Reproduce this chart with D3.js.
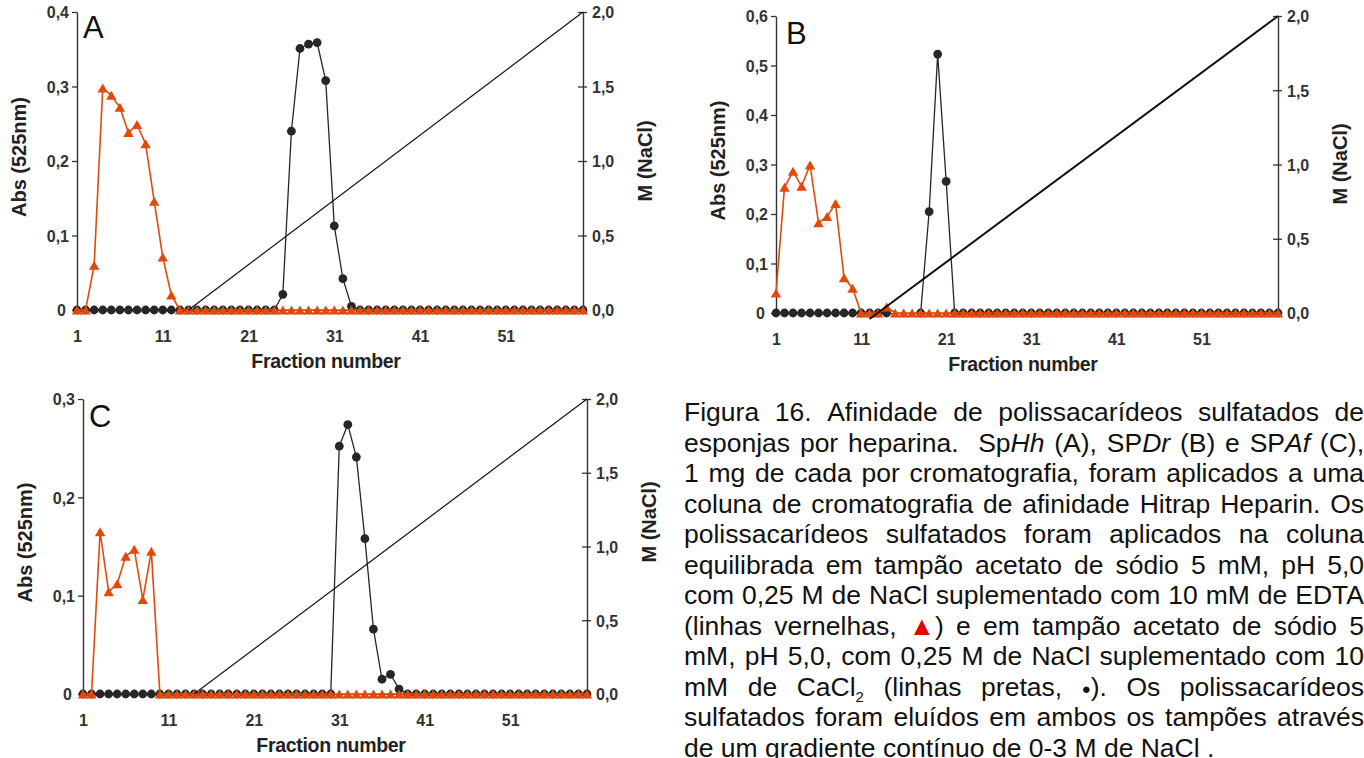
<!DOCTYPE html>
<html>
<head>
<meta charset="utf-8">
<script src="https://cdn.jsdelivr.net/npm/d3@7"></script>
<style>
  html, body { margin: 0; padding: 0; background: #fff; }
  body { width: 1364px; height: 758px; overflow: hidden; }
  svg { display: block; }
</style>
</head>
<body>
<svg id="chart" width="1364" height="758"></svg>
<script>
// Fraction numbers collected from the column (x categories)
const fractions = d3.range(1, 61);
const fractionTicks = [1, 11, 21, 31, 41, 51];
const molarTicks = [0, 0.5, 1.0, 1.5, 2.0];

// Panel A — SpHh
const absTicksA = [0, 0.1, 0.2, 0.3, 0.4];
const edtaA = [0, 0, 0.06, 0.298, 0.288, 0.272, 0.238, 0.249, 0.223, 0.146,
  0.071, 0.02, 0, 0, 0, 0, 0, 0, 0, 0,
  0, 0, 0, 0, 0, 0, 0, 0, 0, 0,
  0, 0, 0, 0, 0, 0, 0, 0, 0, 0,
  0, 0, 0, 0, 0, 0, 0, 0, 0, 0,
  0, 0, 0, 0, 0, 0, 0, 0, 0, 0];
const cacl2A = [0, 0, 0, 0, 0, 0, 0, 0, 0, 0,
  0, 0, 0, 0, 0, 0, 0, 0, 0, 0,
  0, 0, 0, 0, 0.021, 0.24, 0.351, 0.357, 0.359, 0.308,
  0.113, 0.042, 0.005, 0, 0, 0, 0, 0, 0, 0,
  0, 0, 0, 0, 0, 0, 0, 0, 0, 0,
  0, 0, 0, 0, 0, 0, 0, 0, 0, 0];
const gradientFractionsA = [14, 60];
const gradientMolarA = [0, 2.0];

// Panel B — SPDr
const absTicksB = [0, 0.1, 0.2, 0.3, 0.4, 0.5, 0.6];
const edtaB = [0.04, 0.254, 0.286, 0.256, 0.299, 0.182, 0.195, 0.221, 0.071, 0.05,
  0, 0, 0, 0.012, 0, 0, 0, 0, 0, 0,
  0, 0, 0, 0, 0, 0, 0, 0, 0, 0,
  0, 0, 0, 0, 0, 0, 0, 0, 0, 0,
  0, 0, 0, 0, 0, 0, 0, 0, 0, 0,
  0, 0, 0, 0, 0, 0, 0, 0, 0, 0];
const cacl2B = [0, 0, 0, 0, 0, 0, 0, 0, 0, 0,
  0, 0, 0, 0, null, null, null, 0, 0.205, 0.523,
  0.266, 0, 0, 0, 0, 0, 0, 0, 0, 0,
  0, 0, 0, 0, 0, 0, 0, 0, 0, 0,
  0, 0, 0, 0, 0, 0, 0, 0, 0, 0,
  0, 0, 0, 0, 0, 0, 0, 0, 0, 0];
const gradientFractionsB = [12, 60];
const gradientMolarB = [-0.04, 2.0];

// Panel C — SPAf
const absTicksC = [0, 0.1, 0.2, 0.3];
const edtaC = [0, 0, 0.165, 0.104, 0.112, 0.14, 0.147, 0.096, 0.145, 0,
  0, 0, 0, 0, 0, 0, 0, 0, 0, 0,
  0, 0, 0, 0, 0, 0, 0, 0, 0, 0,
  0, 0, 0, 0, 0, 0, 0, 0, 0, 0,
  0, 0, 0, 0, 0, 0, 0, 0, 0, 0,
  0, 0, 0, 0, 0, 0, 0, 0, 0, 0];
const cacl2C = [0, 0, 0, 0, 0, 0, 0, 0, 0, 0,
  0, 0, 0, 0, 0, 0, 0, 0, 0, 0,
  0, 0, 0, 0, 0, 0, 0, 0, 0, 0,
  0.252, 0.274, 0.241, 0.158, 0.066, 0.015, 0.02, 0.005, 0, 0,
  0, 0, 0, 0, 0, 0, 0, 0, 0, 0,
  0, 0, 0, 0, 0, 0, 0, 0, 0, 0];
const gradientFractionsC = [14, 60];
const gradientMolarC = [0, 2.0];

// Figure legend, one entry per printed line (<i> italic, <sub> subscript, <r> red, <b> bullet)
const captionLines = [
  "Figura 16. Afinidade de polissacarídeos sulfatados de",
  "esponjas por heparina.  Sp<i>Hh</i> (A), SP<i>Dr</i> (B) e SP<i>Af</i> (C),",
  "1 mg de cada por cromatografia, foram aplicados a uma",
  "coluna de cromatografia de afinidade Hitrap Heparin. Os",
  "polissacarídeos sulfatados foram aplicados na coluna",
  "equilibrada em tampão acetato de sódio 5 mM, pH 5,0",
  "com 0,25 M de NaCl suplementado com 10 mM de EDTA",
  "(linhas vernelhas, <r>▲</r>) e em tampão acetato de sódio 5",
  "mM, pH 5,0, com 0,25 M de NaCl suplementado com 10",
  "mM de CaCl<sub>2</sub> (linhas pretas, <b>●</b>). Os polissacarídeos",
  "sulfatados foram eluídos em ambos os tampões através",
  "de um gradiente contínuo de 0-3 M de NaCl ."
];

// ---------------------------------------------------------------------------
const FONT = '"Liberation Sans", Arial, Helvetica, sans-serif';
const RED = "#E2490B";
const DARK = "#262626";
const AXIS = "#333333";

const panels = [
  { letter: "A", edta: edtaA, cacl2: cacl2A, absTicks: absTicksA,
    gf: gradientFractionsA, gm: gradientMolarA, gradWidth: 1.2,
    left: 77, right: 583, top: 12, bottom: 310, letterX: 83, letterY: 38, mTitleY: 161 },
  { letter: "B", edta: edtaB, cacl2: cacl2B, absTicks: absTicksB,
    gf: gradientFractionsB, gm: gradientMolarB, gradWidth: 2,
    left: 776, right: 1278, top: 16, bottom: 313, letterX: 786, letterY: 44, mTitleY: 164 },
  { letter: "C", edta: edtaC, cacl2: cacl2C, absTicks: absTicksC,
    gf: gradientFractionsC, gm: gradientMolarC, gradWidth: 1.2,
    left: 83, right: 587, top: 399, bottom: 694, letterX: 89, letterY: 427, mTitleY: 522 }
];

const svg = d3.select("#chart");
const commaFmt = v => d3.format(".1f")(v).replace(".", ",");
const absFmt = v => (v === 0 ? "0" : commaFmt(v));
const triangle = "M0,-4.6L5.2,4.4L-5.2,4.4Z";

function drawPanel(p) {
  const g = svg.append("g");
  const absMax = p.absTicks[p.absTicks.length - 1];
  const x = d3.scaleLinear().domain([1, 60]).range([p.left, p.right]);
  const yAbs = d3.scaleLinear().domain([0, absMax]).range([p.bottom, p.top]);
  const yM = d3.scaleLinear().domain([0, 2]).range([p.bottom, p.top]);

  // x axis (baseline + fraction labels)
  const xAxis = g.append("g").attr("transform", `translate(0,${p.bottom})`)
    .call(d3.axisBottom(x).tickValues(fractionTicks).tickSize(0).tickSizeOuter(0));
  xAxis.select(".domain").attr("stroke", AXIS).attr("stroke-width", 1.2);
  xAxis.selectAll("text").attr("y", 32).attr("dy", null)
    .attr("font-family", FONT).attr("font-size", 16).attr("font-weight", "bold").attr("fill", AXIS);

  // left axis: absorbance
  const left = g.append("g").attr("transform", `translate(${p.left},0)`)
    .call(d3.axisLeft(yAbs).tickValues(p.absTicks).tickFormat(absFmt).tickSize(5).tickSizeOuter(0).tickPadding(4));
  left.select(".domain").attr("stroke", AXIS).attr("stroke-width", 1.4);
  left.selectAll(".tick line").attr("stroke", AXIS).attr("stroke-width", 1.3);
  left.selectAll("text")
    .attr("x", d => (d === 0 ? -11 : -8)).attr("dy", "0.36em")
    .attr("font-family", FONT).attr("font-size", 16).attr("font-weight", "bold").attr("fill", AXIS);

  // right axis: NaCl molarity
  const right = g.append("g").attr("transform", `translate(${p.right},0)`)
    .call(d3.axisRight(yM).tickValues(molarTicks).tickFormat(commaFmt).tickSize(4).tickSizeOuter(0));
  right.select(".domain").attr("stroke", AXIS).attr("stroke-width", 1.4);
  right.selectAll(".tick line").attr("x1", -5).attr("x2", 4).attr("stroke", AXIS).attr("stroke-width", 1.3);
  right.selectAll("text")
    .attr("x", 9).attr("dy", "0.36em")
    .attr("font-family", FONT).attr("font-size", 16).attr("font-weight", "bold").attr("fill", AXIS);

  g.selectAll("path.domain").attr("fill", "none");

  const black = fractions.map((f, i) => ({ f, v: p.cacl2[i] }));
  const red = fractions.map((f, i) => ({ f, v: p.edta[i] }));
  const line = d3.line().defined(d => d.v != null).x(d => x(d.f)).y(d => yAbs(d.v));

  // CaCl2 series (black circles)
  g.append("path").datum(black).attr("d", line)
    .attr("fill", "none").attr("stroke", DARK).attr("stroke-width", 1.3);
  g.append("g").selectAll("circle").data(black.filter(d => d.v != null)).join("circle")
    .attr("cx", d => x(d.f)).attr("cy", d => yAbs(d.v)).attr("r", 4.4).attr("fill", DARK);

  // EDTA series (red triangles)
  g.append("path").datum(red).attr("d", line)
    .attr("fill", "none").attr("stroke", RED).attr("stroke-width", 1.6);
  g.append("g").selectAll("path").data(red).join("path")
    .attr("d", triangle)
    .attr("transform", d => `translate(${x(d.f)},${yAbs(d.v)})`)
    .attr("fill", RED);

  // NaCl gradient
  const grad = p.gf.map((f, i) => ({ f, m: p.gm[i] }));
  g.append("path").datum(grad)
    .attr("d", d3.line().x(d => x(d.f)).y(d => yM(d.m)))
    .attr("fill", "none").attr("stroke", "#111").attr("stroke-width", p.gradWidth);

  // titles
  const midY = (p.top + p.bottom) / 2;
  g.append("text").text("Abs (525nm)")
    .attr("transform", `translate(${p.left - 51},${midY - 4}) rotate(-90)`)
    .attr("text-anchor", "middle").attr("font-family", FONT).attr("font-size", 20)
    .attr("font-weight", "bold").attr("fill", "#222");
  g.append("text").text("M (NaCl)")
    .attr("transform", `translate(${p.right + 69},${p.mTitleY}) rotate(-90)`)
    .attr("text-anchor", "middle").attr("font-family", FONT).attr("font-size", 20)
    .attr("font-weight", "bold").attr("fill", "#222");
  g.append("text").text("Fraction number")
    .attr("x", (p.left + p.right) / 2 - 4).attr("y", p.bottom + 58)
    .attr("text-anchor", "middle").attr("font-family", FONT).attr("font-size", 19.5)
    .attr("font-weight", "bold").attr("letter-spacing", -0.3).attr("fill", "#222");
  g.append("text").text(p.letter)
    .attr("x", p.letterX).attr("y", p.letterY)
    .attr("font-family", FONT).attr("font-size", 31).attr("fill", "#111");
}

panels.forEach(drawPanel);

// ---------------------------------------------------------------------------
// Justified legend text, laid out word by word
const CAP = { left: 684, width: 680, top: 421, lineH: 30.5, size: 26.5 };

function parseWord(word) {
  const segs = [];
  const re = /<(i|sub|r|b)>(.*?)<\/\1>|([^<]+)/g;
  let m;
  while ((m = re.exec(word)) !== null) {
    if (m[3] !== undefined) segs.push({ t: m[3], k: "n" });
    else segs.push({ t: m[2], k: m[1] });
  }
  return segs;
}

const capG = svg.append("g")
  .attr("font-family", FONT).attr("font-size", CAP.size).attr("fill", "#111");

const spaceProbe = capG.append("text").text("a a");
const probe2 = capG.append("text").text("aa");
const spaceW = spaceProbe.node().getComputedTextLength() - probe2.node().getComputedTextLength();
spaceProbe.remove(); probe2.remove();

captionLines.forEach((lineStr, li) => {
  const tokens = lineStr.split(" ");
  const words = [];
  const gaps = [];
  let extra = 0;
  tokens.forEach(tok => {
    if (tok === "") { extra += 1; return; }
    if (words.length) gaps.push(1 + extra);
    extra = 0;
    words.push(tok);
  });
  const y = CAP.top + li * CAP.lineH;
  const lineG = capG.append("g").attr("transform", `translate(${CAP.left},${y})`);
  const nodes = words.map(w => {
    const t = lineG.append("text").attr("y", 0);
    let shift = 0;
    parseWord(w).forEach(s => {
      const ts = t.append("tspan").text(s.t);
      let dy = 0;
      if (s.k === "i") ts.attr("font-style", "italic");
      if (s.k === "r") ts.attr("fill", "#E80000");
      if (s.k === "b") { ts.attr("font-size", 15); dy = -2; }
      if (s.k === "sub") { ts.attr("font-size", 15); dy = 6; }
      if (dy - shift !== 0) ts.attr("dy", dy - shift);
      shift = dy;
    });
    return t;
  });
  const widths = nodes.map(n => n.node().getComputedTextLength());
  const total = d3.sum(widths);
  const last = li === captionLines.length - 1;
  const unit = last ? spaceW : Math.max(spaceW * 0.5, (CAP.width - total) / d3.sum(gaps));
  let cx = 0;
  nodes.forEach((n, i) => {
    n.attr("x", cx);
    cx += widths[i] + (i < gaps.length ? gaps[i] * unit : 0);
  });
});
</script>
</body>
</html>
